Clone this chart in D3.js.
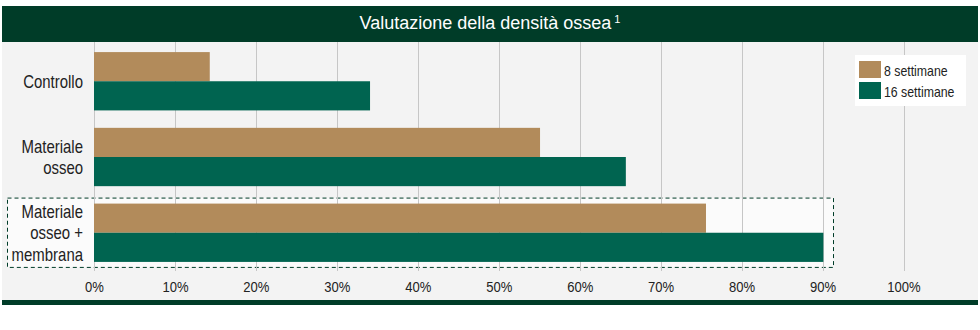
<!DOCTYPE html>
<html>
<head>
<meta charset="utf-8">
<script src="https://cdn.jsdelivr.net/npm/d3@7/dist/d3.min.js"></script>
<style>
  html, body { margin: 0; padding: 0; background: #ffffff; }
  svg { display: block; }
  text { font-family: "Liberation Sans", Arial, Helvetica, sans-serif; }
</style>
</head>
<body>
<svg id="chart" width="980" height="330"></svg>
<script>
// Bone density assessment, share of new bone by group and healing time
const categories = [["Controllo"], ["Materiale", "osseo"], ["Materiale", "osseo +", "membrana"]];
const seriesNames = ["8 settimane", "16 settimane"];
const weeks8 = [14.3, 55.1, 75.6];
const weeks16 = [34.1, 65.7, 90.1];
const tickValues = [0, 10, 20, 30, 40, 50, 60, 70, 80, 90, 100];
const title = "Valutazione della densità ossea";

const colors = ["#b28b5b", "#006450"];
const dark = "#003c28";
const ink = "#222222";

const svg = d3.select("#chart");

// horizontally condensed text anchored at (px, py)
function condText(parent, px, py, str, size, sx, anchor) {
  return parent.append("g").attr("transform", `translate(${px},${py}) scale(${sx},1)`)
    .append("text").attr("x", 0).attr("y", 0)
    .attr("font-size", size).attr("fill", ink)
    .attr("text-anchor", anchor || "start").text(str);
}

// panel background
svg.append("rect").attr("x", 2).attr("y", 42).attr("width", 976).attr("height", 258).attr("fill", "#f3f3f3");
// header band
svg.append("rect").attr("x", 2).attr("y", 6).attr("width", 976).attr("height", 36).attr("fill", dark);
const t = svg.append("text").attr("x", 490).attr("y", 29).attr("text-anchor", "middle")
  .attr("fill", "#ffffff").attr("font-size", 18);
t.append("tspan").text(title);
t.append("tspan").attr("dx", 3).attr("dy", -6).attr("font-size", 11).text("1");
// bottom rule
svg.append("rect").attr("x", 2).attr("y", 300).attr("width", 976).attr("height", 5).attr("fill", dark);

const x = d3.scaleLinear().domain([0, 100]).range([94, 903.5]);
const y = d3.scaleBand().domain(d3.range(categories.length)).range([43, 271]).paddingInner(0.23).paddingOuter(0.12);
const sub = d3.scaleBand().domain([0, 1]).range([0, y.bandwidth()]);

// highlighted group frame
const hi = 2;
svg.append("rect")
  .attr("x", 7.5).attr("y", y(hi) - 5.5)
  .attr("width", 826).attr("height", y.bandwidth() + 11)
  .attr("fill", "#fbfbfb").attr("stroke", dark).attr("stroke-width", 1)
  .attr("stroke-dasharray", "4,3");

// gridlines
svg.append("g").selectAll("line").data(tickValues).join("line")
  .attr("x1", d => Math.round(x(d)) + 0.5).attr("x2", d => Math.round(x(d)) + 0.5)
  .attr("y1", 42).attr("y2", 271)
  .attr("stroke", "#c6c6c6").attr("stroke-width", 1);

// x axis labels
const axis = d3.axisBottom(x).tickValues(tickValues).tickFormat(d => d + "%").tickSize(0).tickPadding(0);
const ax = svg.append("g").attr("transform", "translate(0,292)").call(axis);
ax.select(".domain").remove();
ax.selectAll(".tick text").attr("dy", 0).attr("y", 0)
  .attr("font-size", 14.5).attr("fill", ink).attr("transform", "scale(0.9,1)");

// bars
const series = [weeks8, weeks16];
series.forEach((vals, s) => {
  svg.append("g").selectAll("rect").data(vals).join("rect")
    .attr("x", x(0))
    .attr("y", (d, i) => y(i) + sub(s))
    .attr("width", d => x(d) - x(0))
    .attr("height", sub.bandwidth())
    .attr("fill", colors[s]);
});

// category labels
categories.forEach((lines, i) => {
  const cy = y(i) + y.bandwidth() / 2;
  const lh = 21.5;
  lines.forEach((ln, k) => {
    condText(svg, 83, cy + (k - (lines.length - 1) / 2) * lh + 6.5, ln, 18, 0.83, "end");
  });
});

// legend
const lg = svg.append("g");
lg.append("rect").attr("x", 855).attr("y", 55).attr("width", 111).attr("height", 51).attr("fill", "#ffffff");
seriesNames.forEach((n, i) => {
  lg.append("rect").attr("x", 859).attr("y", 61 + i * 21).attr("width", 22).attr("height", 17).attr("fill", colors[i]);
  condText(lg, 884, 76 + i * 21, n, 14, 0.88);
});
</script>
</body>
</html>
